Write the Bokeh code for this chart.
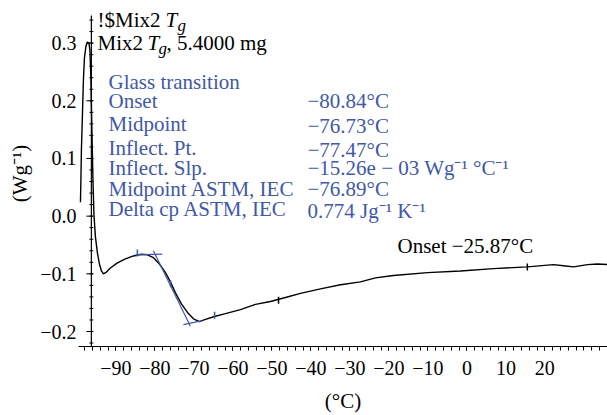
import numpy as np
from bokeh.plotting import figure
from bokeh.models import Label, FixedTicker, CustomJSTickFormatter, Range1d
from bokeh.embed import file_html
from bokeh.resources import INLINE

# ---------------- data ----------------
temperature = [-99.10, -98.98, -98.85, -98.59, -98.34, -98.08, -97.69, -97.31, -96.92, -96.67,
               -96.41, -96.16, -95.90, -95.64, -95.26, -94.74, -94.23, -93.72, -93.21, -92.44,
               -91.41, -89.62, -87.56, -85.51, -83.46, -81.92, -80.38, -78.84, -77.30, -76.02,
               -74.74, -73.20, -71.66, -70.12, -68.58, -67.04, -64.74, -61.92, -58.07, -54.22,
               -50.38, -46.53, -42.68, -37.55, -32.42, -27.29, -23.45, -18.83, -10.11, -1.65,
               6.82, 15.54, 22.21, 24.77, 27.34, 30.93, 33.50, 36.06]
heat_flow = [0.024, 0.064, 0.116, 0.176, 0.236, 0.274, 0.295, 0.302, 0.300, 0.288,
             0.236, 0.150, 0.064, 0.003, -0.036, -0.064, -0.083, -0.095, -0.100, -0.097,
             -0.090, -0.081, -0.074, -0.069, -0.066, -0.067, -0.072, -0.083, -0.098, -0.114,
             -0.133, -0.152, -0.167, -0.178, -0.183, -0.179, -0.174, -0.169, -0.162, -0.153,
             -0.148, -0.141, -0.134, -0.126, -0.119, -0.114, -0.107, -0.103, -0.098, -0.095,
             -0.091, -0.088, -0.084, -0.086, -0.088, -0.084, -0.083, -0.084]

# tangent construction lines (glass transition evaluation)
tangent_x0 = [-85.0, -80.4, -72.7]
tangent_y0 = [-0.067, -0.060, -0.188]
tangent_x1 = [-78.1, -70.9, -67.8]
tangent_y1 = [-0.066, -0.191, -0.181]

# evaluation limit marks
blue_mark_x = [-84.5, -76.0, -64.7]
blue_mark_y = [-0.064, -0.117, -0.172]
black_mark_x = [-48.3, 15.5]
black_mark_y = [-0.146, -0.088]

x_ticks = [-90, -80, -70, -60, -50, -40, -30, -20, -10, 0, 10, 20]
x_tick_labels = ["\u221290", "\u221280", "\u221270", "\u221260", "\u221250", "\u221240",
                 "\u221230", "\u221220", "\u221210", "0", "10", "20"]
y_ticks = [-0.2, -0.1, 0.0, 0.1, 0.2, 0.3]
y_tick_labels = ["\u22120.2", "\u22120.1", "0.0", "0.1", "0.2", "0.3"]
y_axis_position = -96.3
y_axis_top = 0.348

result_names = ["Onset", "Midpoint", "Inflect. Pt.", "Inflect. Slp.",
                "Midpoint ASTM, IEC", "Delta cp ASTM, IEC"]
result_values = ["\u221280.84\u00b0C", "\u221276.73\u00b0C", "\u221277.47\u00b0C",
                 "\u221215.26e \u2212 03 Wg\u207b\u00b9 \u00b0C\u207b\u00b9",
                 "\u221276.89\u00b0C", "0.774 Jg\u207b\u00b9 K\u207b\u00b9"]

# ---------------- layout ----------------
X0, X1 = -99.6, 36.06
Y0, Y1 = -0.226, 0.3739
F_LEFT, F_TOP, F_W, F_H = 78, 0, 529, 348
FONT = "Liberation Serif"
BLUE = "#4158a8"
PXW = (X1 - X0) / F_W  # data units per horizontal pixel


def dx(px):
    return X0 + (px - F_LEFT) / F_W * (X1 - X0)


def dy(py):
    return Y1 - (py - F_TOP) / F_H * (Y1 - Y0)


p = figure(width=607, height=415, x_range=Range1d(X0, X1), y_range=Range1d(Y0, Y1),
           output_backend="svg", toolbar_location=None,
           min_border_left=F_LEFT, min_border_right=0, min_border_top=F_TOP,
           min_border_bottom=415 - F_TOP - F_H)
p.outline_line_color = None
p.xgrid.visible = False
p.ygrid.visible = False
p.background_fill_color = "white"

FMT = """
    let best = 0;
    for (let i = 0; i < t.length; i++) { if (Math.abs(t[i]-tick) < Math.abs(t[best]-tick)) best = i; }
    return l[best];
"""
p.xaxis.ticker = FixedTicker(ticks=x_ticks, minor_ticks=list(np.arange(-98, 37, 2)))
p.xaxis.formatter = CustomJSTickFormatter(args=dict(t=x_ticks, l=x_tick_labels), code=FMT)
y_minor = list(np.round(np.arange(-0.22, 0.35, 0.02), 2))
p.yaxis.ticker = FixedTicker(ticks=y_ticks, minor_ticks=[])
p.yaxis.formatter = CustomJSTickFormatter(args=dict(t=y_ticks, l=y_tick_labels), code=FMT)

for ax in (p.xaxis[0], p.yaxis[0]):
    ax.axis_line_color = "black"
    ax.axis_line_width = 1.2
    ax.major_tick_line_color = "black"
    ax.minor_tick_line_color = "black"
    ax.major_label_text_font = FONT
    ax.major_label_text_font_size = "20px"
    ax.major_label_text_color = "black"
    ax.axis_label_text_font = FONT
    ax.axis_label_text_font_size = "21px"
    ax.axis_label_text_font_style = "normal"
    ax.axis_label_text_color = "black"

p.xaxis.axis_label = "(\u00b0C)"
p.xaxis.major_tick_in = 0
p.xaxis.major_tick_out = 4
p.xaxis.minor_tick_in = 0
p.xaxis.minor_tick_out = 4
p.xaxis.major_label_standoff = 10
p.xaxis.axis_label_standoff = 11

# the left axis supplies labels; its visible line sits at the instrument's zero position
p.yaxis.axis_label = "(Wg\u207b\u00b9)"
p.yaxis.axis_line_color = None
p.yaxis.major_tick_line_color = None
p.yaxis.minor_tick_line_color = None
p.yaxis.major_tick_in = 0
p.yaxis.major_tick_out = 0
p.yaxis.minor_tick_in = 0
p.yaxis.minor_tick_out = 0
p.yaxis.major_label_standoff = 2
p.yaxis.axis_label_standoff = 5

p.segment([y_axis_position], [Y0], [y_axis_position], [y_axis_top], line_color="black", line_width=1.2)
p.segment([y_axis_position - 5 * PXW] * len(y_ticks), y_ticks,
          [y_axis_position + 2 * PXW] * len(y_ticks), y_ticks, line_color="black", line_width=1)
p.segment([y_axis_position - 2 * PXW] * len(y_minor), y_minor,
          [y_axis_position + 2 * PXW] * len(y_minor), y_minor, line_color="black", line_width=1)

# curve and construction
p.line(temperature, heat_flow, line_color="black", line_width=1.4)
p.segment(tangent_x0, tangent_y0, tangent_x1, tangent_y1, line_color=BLUE, line_width=1.2)
p.scatter(blue_mark_x, blue_mark_y, marker="dash", angle=np.pi / 2, size=7,
          line_color=BLUE, line_width=1.5)
p.scatter(black_mark_x, black_mark_y, marker="dash", angle=np.pi / 2, size=7,
          line_color="black", line_width=1.5)


def label(px, py, text, color="black", style="normal", size="21px"):
    p.add_layout(Label(x=dx(px), y=dy(py), text=text, text_font=FONT, text_font_size=size,
                       text_color=color, text_font_style=style, text_baseline="middle",
                       text_align="left"))


# header (py = vertical centre of the capitals)
label(97, 20, "!$Mix2")
label(165, 20, "T", style="italic")
label(177, 25, "g", style="italic", size="17px")
label(97, 43, "Mix2")
label(147, 43, "T", style="italic")
label(158, 48, "g", style="italic", size="17px")
label(166, 43, ", 5.4000 mg")

# blue results table
label(108, 82, "Glass transition", color=BLUE)
name_mid = [101, 124, 148, 168, 190, 210]
value_mid = [101, 126, 150, 168, 190, 212]
for nm, vm, nmid, val in zip(result_names, value_mid, name_mid, result_values):
    label(108, nmid, nm, color=BLUE)
    label(307, vm, val, color=BLUE)

# second onset
label(397, 247, "Onset \u221225.87\u00b0C")

open("out.html", "w").write(file_html(p, INLINE))
